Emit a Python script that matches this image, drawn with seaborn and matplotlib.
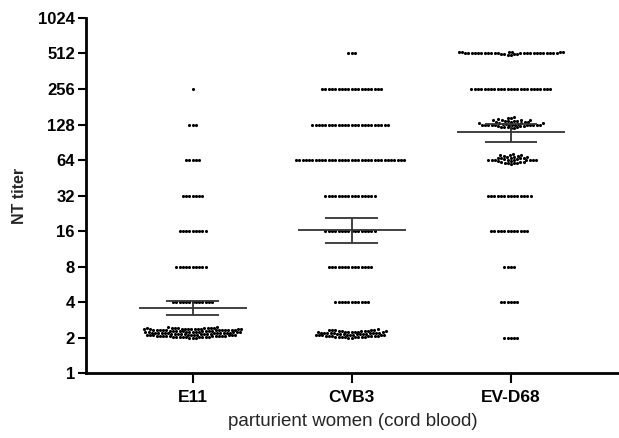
import numpy as np
import pandas as pd
import seaborn as sns
import matplotlib
matplotlib.use("Agg")
import matplotlib.pyplot as plt
from matplotlib.ticker import FixedLocator, FixedFormatter, NullLocator

# ---------------- data ----------------
groups = ["E11", "CVB3", "EV-D68"]
titer_levels = [2, 4, 8, 16, 32, 64, 128, 256, 512]
e11_counts = [0, 13, 10, 9, 7, 5, 3, 1, 0]
cvb3_counts = [0, 11, 14, 16, 16, 34, 24, 19, 3]
evd68_counts = [5, 6, 4, 12, 14, 0, 0, 25, 0]

# dense clusters (individual values, estimated)
e11_low = [2.00, 2.03, 2.06, 2.09, 2.12, 2.15, 2.18, 2.21, 2.24, 2.27, 2.30, 2.33, 2.36, 2.39, 2.42,
           2.01, 2.04, 2.07, 2.10, 2.13, 2.16, 2.19, 2.22, 2.25, 2.28, 2.31, 2.34, 2.37, 2.40, 2.44,
           2.02, 2.05, 2.08, 2.11, 2.14, 2.17, 2.20, 2.23, 2.26, 2.29, 2.32, 2.35, 2.38, 2.41, 2.45,
           2.00, 2.04, 2.08, 2.12, 2.16, 2.20, 2.24, 2.28, 2.32, 2.36, 2.40, 2.02, 2.06, 2.10, 2.14,
           2.18, 2.22, 2.26, 2.30, 2.34, 2.38, 2.42, 2.01, 2.05, 2.09, 2.13, 2.17, 2.21, 2.25, 2.29,
           2.33, 2.37, 2.41, 2.03, 2.07, 2.11, 2.15, 2.19, 2.23, 2.27, 2.31, 2.35, 2.39, 2.43, 2.00,
           2.06, 2.12, 2.18, 2.24, 2.30, 2.36, 2.04, 2.10, 2.16, 2.22, 2.28, 2.34, 2.40, 2.08, 2.20]
cvb3_low = [2.00, 2.03, 2.06, 2.09, 2.12, 2.15, 2.18, 2.21, 2.24, 2.27, 2.30, 2.33,
            2.01, 2.04, 2.07, 2.10, 2.13, 2.16, 2.19, 2.22, 2.25, 2.28, 2.31, 2.35,
            2.02, 2.05, 2.08, 2.11, 2.14, 2.17, 2.20, 2.23, 2.26, 2.29, 2.32, 2.00,
            2.04, 2.08, 2.12, 2.16, 2.20, 2.24, 2.28, 2.02, 2.06, 2.10, 2.14, 2.18,
            2.22, 2.26, 2.30, 2.01, 2.05, 2.09, 2.13, 2.17, 2.21, 2.25, 2.03, 2.11]
evd68_64 = [59, 60, 61, 62, 63, 64, 64, 64, 64, 65, 66, 67, 68, 69, 70, 71, 72,
            60, 61, 62, 63, 64, 64, 64, 65, 66, 67, 68, 69, 70, 62, 64, 64, 66, 68]
evd68_128 = [119, 121, 123, 125, 127, 128, 128, 128, 128, 130, 132, 134, 136, 138, 140, 142, 145, 148,
             120, 122, 124, 126, 128, 128, 128, 129, 131, 133, 135, 137, 139, 141, 144,
             122, 125, 128, 128, 131, 134, 137, 140, 126, 130, 135, 128]
evd68_512 = [496, 500, 504, 508, 512, 512, 512, 512, 512, 512, 512, 512, 512, 512, 512, 512,
             512, 512, 512, 512, 512, 512,
             506, 516, 520, 524, 528, 532, 508, 518, 522, 526, 530, 514, 520]

gmean = [3.6, 16.3, 110]
ci_low = [3.1, 12.8, 91]
ci_high = [4.05, 20.5, 130]

y_ticks = [1, 2, 4, 8, 16, 32, 64, 128, 256, 512, 1024]
x_label = "parturient women (cord blood)"
y_label = "NT titer"

# ---------------- build table ----------------
rows = []
for g, counts in zip(groups, [e11_counts, cvb3_counts, evd68_counts]):
    for lvl, c in zip(titer_levels, counts):
        rows += [(g, float(lvl))] * c
rows += [("E11", v) for v in e11_low]
rows += [("CVB3", v) for v in cvb3_low]
rows += [("EV-D68", float(v)) for v in evd68_64 + evd68_128 + evd68_512]
df = pd.DataFrame(rows, columns=["group", "titer"])

# ---------------- plot ----------------
sns.set_style("ticks")
plt.rcParams["font.family"] = ["Liberation Sans", "DejaVu Sans"]

fig = plt.figure(figsize=(6.19, 4.38), dpi=100)
ax = fig.add_axes([0.139, 0.148, 0.861, 0.811])

sns.swarmplot(data=df, x="group", y="titer", order=groups, color="black",
              size=2.25, linewidth=0, log_scale=2, ax=ax,
              zorder=3, warn_thresh=1.0)

xs = np.arange(len(groups))
ax.hlines(gmean, xs - 0.34, xs + 0.34, color="#333333", lw=1.3, zorder=4)
ax.hlines(ci_low, xs - 0.165, xs + 0.165, color="#333333", lw=1.3, zorder=4)
ax.hlines(ci_high, xs - 0.165, xs + 0.165, color="#333333", lw=1.3, zorder=4)
ax.vlines(xs, ci_low, ci_high, color="#333333", lw=1.3, zorder=4)

ax.set_ylim(1, 1024)
ax.set_xlim(-0.67, 2.68)
ax.yaxis.set_major_locator(FixedLocator(y_ticks))
ax.yaxis.set_major_formatter(FixedFormatter([str(t) for t in y_ticks]))
ax.yaxis.set_minor_locator(NullLocator())

for s in ["top", "right"]:
    ax.spines[s].set_visible(False)
for s in ["left", "bottom"]:
    ax.spines[s].set_linewidth(2)
    ax.spines[s].set_color("black")

ax.tick_params(axis="y", direction="out", length=6, width=1.5, pad=2,
               labelsize=12, colors="black")
ax.tick_params(axis="x", direction="out", length=7, width=1.5, pad=5,
               labelsize=12.5, colors="black")
for lab in ax.get_yticklabels() + ax.get_xticklabels():
    lab.set_fontweight("bold")

ax.set_ylabel(y_label, fontsize=11.5, fontweight="bold", labelpad=8)
ax.set_xlabel(x_label, fontsize=13.5, labelpad=6)

fig.savefig("out.png", dpi=100)
